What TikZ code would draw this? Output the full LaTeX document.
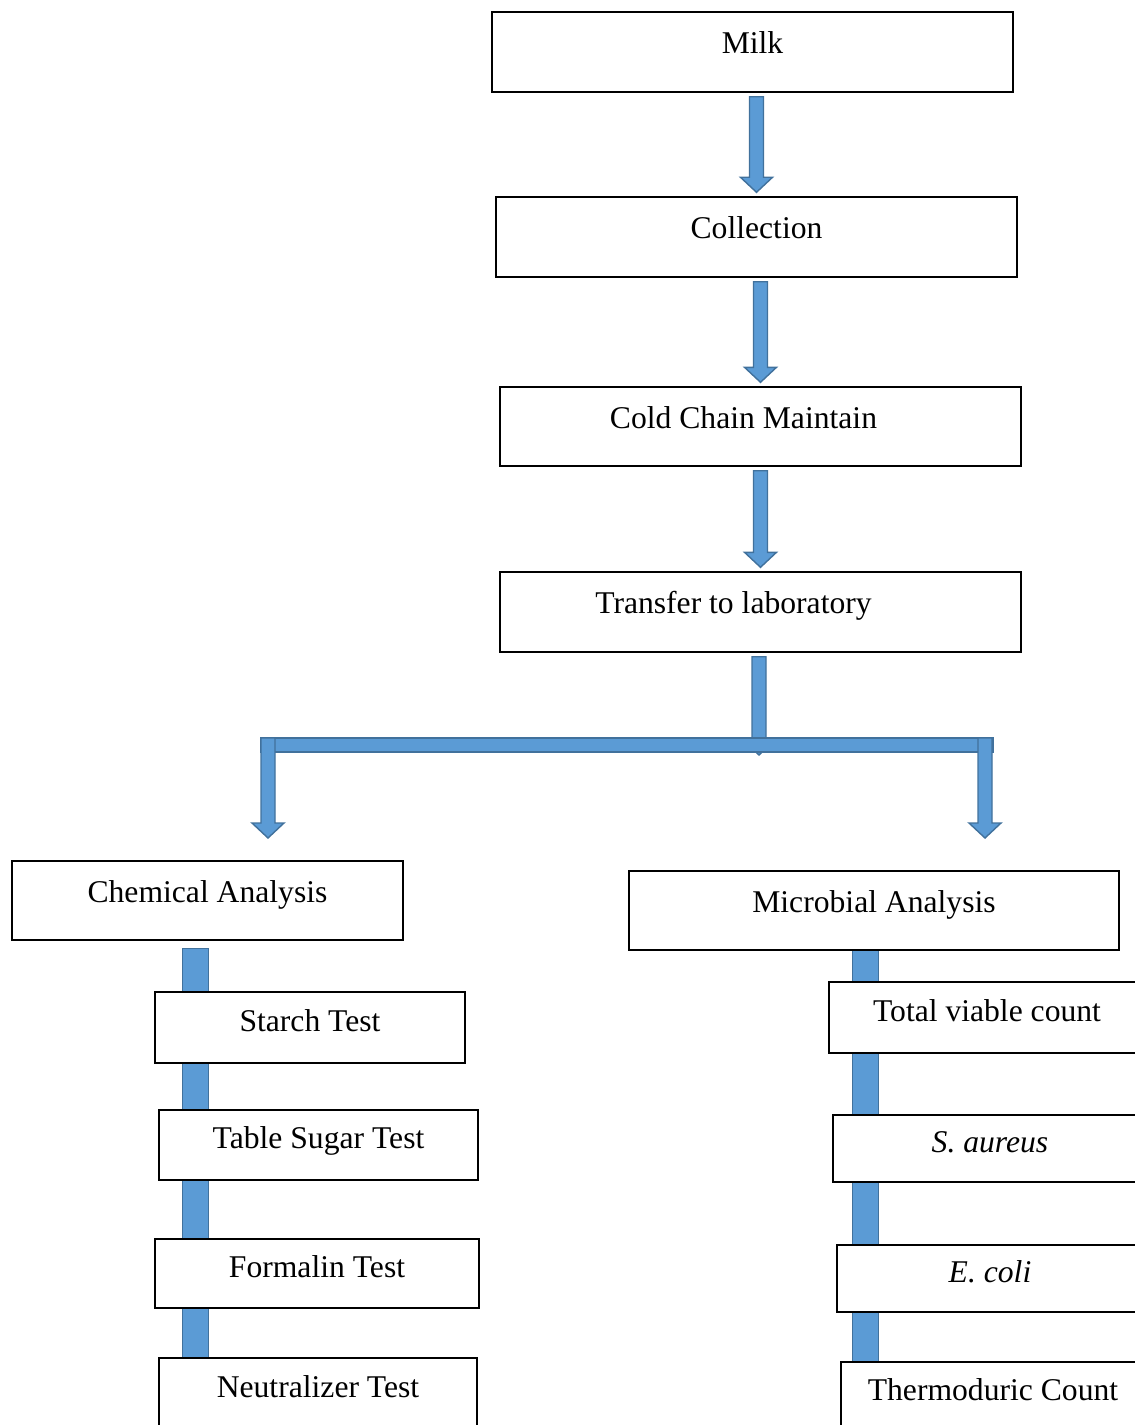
\documentclass[tikz,border=0pt]{standalone}
\usepackage{fontspec}
\setmainfont{Liberation Serif}
\usepackage{xcolor}
\usepackage{tikz}
\usetikzlibrary{calc,backgrounds}
\definecolor{arrowblue}{HTML}{5B9BD5}
\definecolor{arrowedge}{HTML}{41719C}

\begin{document}
\begin{tikzpicture}[
    x=0.2mm, y=-0.2mm,
    box/.style={draw, fill=white, line width=0.8pt, inner sep=0pt,
    font=\fontsize{18}{22}\selectfont, text height=2ex, text depth=1.6ex},
    testbox/.style={box, text height=2.4ex, text depth=1.45ex},
    blk/.style={draw=arrowedge, fill=arrowblue, line width=0.8pt,
    to path={let \p1=(\tikztostart), \p2=(\tikztotarget) in
    (\x2-1.4mm,\y1) -- (\x2+1.4mm,\y1) -- (\x2+1.4mm,\y2+3mm) -- (\x2+3.2mm,\y2+3mm)
    -- (\x2,\y2) -- (\x2-3.2mm,\y2+3mm) -- (\x2-1.4mm,\y2+3mm) -- cycle}},
    spine/.style={draw=arrowedge, fill=arrowblue, line width=0.8pt}
]
\useasboundingbox (0,0) rectangle (1135,1425);
\clip (0,0) rectangle (1135,1425);

\node[box, minimum width=104.2mm, minimum height=16mm] (milk) at (752.5,52) {Milk};
\node[box, minimum width=104.2mm, minimum height=16mm] (coll) at (756.5,237) {Collection};
\node[box, minimum width=104.2mm, minimum height=15.8mm] (cold) at (760.5,426.5) {Cold Chain Maintain\hspace*{6.8mm}};
\node[box, minimum width=104.2mm, minimum height=16mm] (trans) at (760.5,612) {Transfer to laboratory\hspace*{10.8mm}};
\draw[blk] ([yshift=-0.8mm]milk.south) to ([yshift=0.8mm]coll.north);
\draw[blk] ([yshift=-0.8mm]coll.south) to ([yshift=0.8mm]cold.north);
\draw[blk] ([yshift=-0.8mm]cold.south) to ([yshift=0.8mm]trans.north);

% split into the two analyses
\coordinate (forkL) at (268,745);
\coordinate (forkR) at (985,745);
\coordinate (forkC) at (759,755);
\coordinate (chemIn) at (268,838);
\coordinate (microIn) at (985,838);
\draw[blk] ([yshift=-0.8mm]trans.south) to (forkC);
\draw[spine] ([xshift=-1.4mm,yshift=1.4mm]forkL) rectangle ([xshift=1.6mm,yshift=-1.4mm]forkR);
\draw[blk] ([yshift=1.4mm]forkL) to (chemIn);
\draw[blk] ([yshift=1.4mm]forkR) to (microIn);

\node[box, minimum width=78.2mm, minimum height=15.8mm] (chem) at (207.5,900.5) {Chemical Analysis};
\node[box, minimum width=98mm, minimum height=15.8mm] (micro) at (874,910.5) {Microbial Analysis};

\node[testbox, minimum width=62mm, minimum height=14.2mm] (starch) at (310,1027.5) {Starch Test};
\node[testbox, minimum width=63.8mm, minimum height=14mm] (sugar) at (318.5,1145) {Table Sugar Test};
\node[testbox, minimum width=64.8mm, minimum height=13.8mm] (formalin) at (317,1273.5) {Formalin Test};
\node[testbox, minimum width=63.6mm, minimum height=14.4mm] (neutral) at (318,1394) {Neutralizer Test};

\node[testbox, minimum width=63.2mm, minimum height=14.2mm] (tvc) at (987,1017.5) {Total viable count};
\node[testbox, minimum width=62.8mm, minimum height=13.4mm] (saureus) at (990,1148.5) {\textit{S. aureus}};
\node[testbox, minimum width=61.2mm, minimum height=13.4mm] (ecoli) at (990,1278.5) {\textit{E. coli}};
\node[testbox, minimum width=60.8mm, minimum height=14mm] (thermo) at (993,1397) {Thermoduric Count};

\begin{scope}[on background layer]
\draw[spine] ([xshift=34.2mm,yshift=-1.6mm]chem.south west) rectangle ([xshift=10mm]neutral.west);
\draw[spine] ([xshift=44.8mm]micro.south west) rectangle ([xshift=7.6mm]thermo.west);
\end{scope}
\end{tikzpicture}
\end{document}
